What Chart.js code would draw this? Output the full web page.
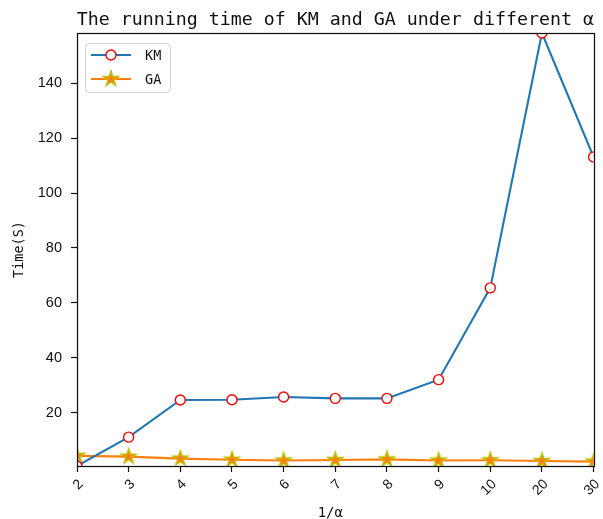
<!DOCTYPE html>
<html>
<head>
<meta charset="utf-8">
<script src="https://cdn.jsdelivr.net/npm/chart.js@4/dist/chart.umd.min.js"></script>
<style>
  html, body { margin: 0; padding: 0; background: #fff; }
  #wrap { width: 603px; height: 519px; }
</style>
</head>
<body>
<div id="wrap"><canvas id="c" width="603" height="519"></canvas></div>
<script>
// 1/alpha values on the x axis
const alphaLabels = ['2', '3', '4', '5', '6', '7', '8', '9', '10', '20', '30'];
// running time (s) of each algorithm
const kmTimes = [0.7, 11.2, 24.7, 24.8, 25.8, 25.3, 25.3, 32.1, 65.5, 158.2, 113.1];
const gaTimes = [4.4, 4.1, 3.4, 3.0, 2.7, 2.9, 3.1, 2.7, 2.8, 2.5, 2.3];
// labelled y ticks
const yTickValues = [20, 40, 60, 80, 100, 120, 140];

const titleText = 'The running time of KM and GA under different \u03b1';
const xTitle = '1/\u03b1';
const yTitle = 'Time(S)';

const MONO = '"DejaVu Sans Mono", monospace';
const SANS = '"Liberation Sans", Arial, sans-serif';

// filled star marker: orange body, olive edge
function makeStar(R) {
  const size = Math.ceil(R * 2 + 4);
  const cv = document.createElement('canvas');
  cv.width = size; cv.height = size;
  const g = cv.getContext('2d');
  const cx = size / 2, cy = size / 2, r = R * 0.382;
  g.beginPath();
  for (let i = 0; i < 10; i++) {
    const rad = i % 2 === 0 ? R : r;
    const a = -Math.PI / 2 + i * Math.PI / 5;
    const x = cx + rad * Math.cos(a), y = cy + rad * Math.sin(a);
    if (i === 0) g.moveTo(x, y); else g.lineTo(x, y);
  }
  g.closePath();
  g.fillStyle = '#ff7f0e';
  g.fill();
  g.lineWidth = 1.4;
  g.strokeStyle = '#bfbf00';
  g.lineJoin = 'miter';
  g.stroke();
  return cv;
}
const starImg = makeStar(8);

const yMin = Math.min(...kmTimes, ...gaTimes);
const yMax = Math.max(...kmTimes, ...gaTimes);

// title, axis titles, legend and the frame round the plot
const decorations = {
  id: 'decorations',
  afterDatasetsDraw(chart) {
    const { ctx, chartArea: a } = chart;
    ctx.save();
    ctx.strokeStyle = '#111';
    ctx.lineWidth = 1.25;
    ctx.strokeRect(Math.round(a.left) + 0.5, Math.round(a.top) + 0.5,
                   Math.round(a.right - a.left), Math.round(a.bottom - a.top));
    ctx.restore();
  },
  afterDraw(chart) {
    const { ctx, chartArea: a } = chart;
    const cx = (a.left + a.right) / 2;
    const cy = (a.top + a.bottom) / 2;
    ctx.save();
    ctx.fillStyle = '#111';
    // title
    ctx.font = '18.3px ' + MONO;
    ctx.textAlign = 'center';
    ctx.textBaseline = 'alphabetic';
    ctx.fillText(titleText, cx, 25);
    // x title
    ctx.font = '14px ' + MONO;
    ctx.fillText(xTitle, cx - 5, 517);
    // y title
    ctx.save();
    ctx.translate(23, cy);
    ctx.rotate(-Math.PI / 2);
    ctx.font = '13.5px ' + MONO;
    ctx.textBaseline = 'alphabetic';
    ctx.fillText(yTitle, 0, 0);
    ctx.restore();

    // legend
    const bx = 85, by = 43, bw = 85, bh = 49;
    ctx.beginPath();
    ctx.roundRect(bx + 0.5, by + 0.5, bw, bh, 4);
    ctx.fillStyle = 'rgba(255,255,255,0.8)';
    ctx.fill();
    ctx.strokeStyle = '#d0d0d0';
    ctx.lineWidth = 1;
    ctx.stroke();

    chart.data.datasets.forEach((ds, i) => {
      const y = 55 + i * 24;
      ctx.beginPath();
      ctx.moveTo(91, y);
      ctx.lineTo(131, y);
      ctx.strokeStyle = ds.borderColor;
      ctx.lineWidth = ds.borderWidth;
      ctx.stroke();
      if (typeof ds.pointStyle === 'string') {
        ctx.beginPath();
        ctx.arc(111, y, ds.pointRadius, 0, Math.PI * 2);
        ctx.fillStyle = ds.pointBackgroundColor;
        ctx.fill();
        ctx.strokeStyle = ds.pointBorderColor;
        ctx.lineWidth = ds.pointBorderWidth;
        ctx.stroke();
      } else {
        Chart.helpers.drawPoint(ctx, {
          pointStyle: ds.pointStyle,
          radius: ds.pointRadius,
          borderWidth: ds.pointBorderWidth,
          rotation: 0
        }, 111, y);
      }
      ctx.fillStyle = '#111';
      ctx.font = '13.5px ' + MONO;
      ctx.textAlign = 'left';
      ctx.textBaseline = 'middle';
      ctx.fillText(ds.label, 145, y + 1);
    });
    ctx.restore();
  }
};

new Chart(document.getElementById('c'), {
  type: 'line',
  data: {
    labels: alphaLabels,
    datasets: [
      {
        label: 'KM',
        data: kmTimes,
        borderColor: '#1f77b4',
        borderWidth: 2.1,
        pointStyle: 'circle',
        pointRadius: 5,
        pointBorderWidth: 1.4,
        pointBorderColor: '#ff0000',
        pointBackgroundColor: '#ffffff',
        tension: 0,
        clip: 0
      },
      {
        label: 'GA',
        data: gaTimes,
        borderColor: '#ff7f0e',
        borderWidth: 2.1,
        pointStyle: starImg,
        pointRadius: 8,
        pointBorderWidth: 1.4,
        tension: 0,
        clip: 0
      }
    ]
  },
  options: {
    responsive: false,
    animation: false,
    devicePixelRatio: 1,
    layout: { padding: { top: 33, right: 5, left: 0, bottom: 0 } },
    plugins: {
      legend: { display: false },
      title: { display: false },
      tooltip: { enabled: false }
    },
    scales: {
      x: {
        type: 'category',
        offset: false,
        afterFit(s) { s.height = 53; s.paddingLeft = 0; s.paddingRight = 0; },
        border: { display: false },
        grid: {
          drawOnChartArea: false,
          drawTicks: true,
          tickLength: 6,
          tickWidth: 1.2,
          tickColor: '#111'
        },
        ticks: {
          autoSkip: false,
          minRotation: 45,
          maxRotation: 45,
          padding: 4,
          labelOffset: 4,
          color: '#111',
          font: { family: SANS, size: 14 }
        }
      },
      y: {
        type: 'linear',
        min: yMin,
        max: yMax,
        afterFit(s) { s.width = 77; s.paddingTop = 0; s.paddingBottom = 0; },
        afterBuildTicks(s) { s.ticks = yTickValues.map(v => ({ value: v })); },
        border: { display: false },
        grid: {
          drawOnChartArea: false,
          drawTicks: true,
          tickLength: 6,
          tickWidth: 1.2,
          tickColor: '#111'
        },
        ticks: {
          padding: 9,
          color: '#111',
          font: { family: SANS, size: 14.5 }
        }
      }
    }
  },
  plugins: [decorations]
});
</script>
</body>
</html>
